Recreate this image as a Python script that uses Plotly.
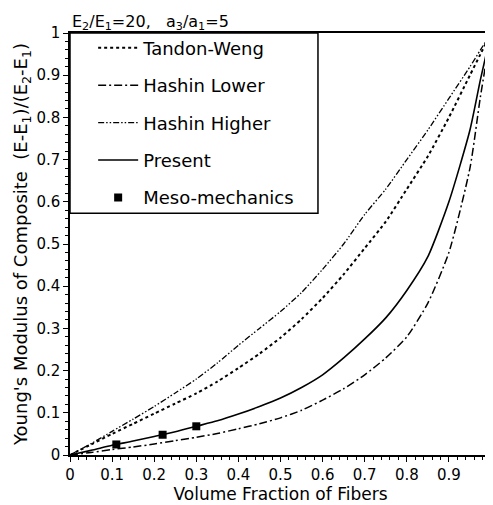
import plotly.graph_objects as go

x_vals = [0, 0.05, 0.1, 0.15, 0.2, 0.25, 0.3, 0.35, 0.4, 0.45, 0.5, 0.55,
          0.6, 0.65, 0.7, 0.75, 0.8, 0.85, 0.9, 0.95, 0.975, 1.0]
tandon_weng = [0, 0.025, 0.05, 0.074, 0.098, 0.122, 0.146, 0.174, 0.206, 0.24, 0.278, 0.322,
               0.372, 0.428, 0.49, 0.553, 0.63, 0.708, 0.8, 0.9, 0.95, 1.0]
hashin_lower = [0, 0.006, 0.013, 0.019, 0.026, 0.034, 0.042, 0.051, 0.062, 0.074, 0.088, 0.106,
                0.13, 0.157, 0.19, 0.23, 0.28, 0.36, 0.48, 0.68, 0.85, 1.0]
hashin_higher = [0, 0.027, 0.056, 0.085, 0.115, 0.147, 0.18, 0.218, 0.26, 0.3, 0.34, 0.385,
                 0.44, 0.5, 0.57, 0.63, 0.7, 0.77, 0.845, 0.92, 0.96, 1.0]
present = [0, 0.011, 0.023, 0.033, 0.044, 0.055, 0.068, 0.081, 0.097, 0.115, 0.135, 0.16,
           0.19, 0.23, 0.275, 0.325, 0.39, 0.47, 0.6, 0.77, 0.89, 1.0]
meso_x = [0.11, 0.22, 0.30]
meso_y = [0.025, 0.048, 0.068]

tick_vals = [0, 0.1, 0.2, 0.3, 0.4, 0.5, 0.6, 0.7, 0.8, 0.9, 1]
tick_text = ["0", "0.1", "0.2", "0.3", "0.4", "0.5", "0.6", "0.7", "0.8", "0.9", "1"]

FONT = "DejaVu Sans"

fig = go.Figure()
fig.add_trace(go.Scatter(x=x_vals, y=tandon_weng, mode="lines", name="Tandon-Weng",
                         legendgroup="a",
                         line=dict(color="black", width=2, dash="dot", shape="spline", smoothing=0.6)))
fig.add_trace(go.Scatter(x=x_vals, y=hashin_lower, mode="lines", name="Hashin Lower",
                         legendgroup="b",
                         line=dict(color="black", width=1.5, dash="8px,3px,2px,3px", shape="spline", smoothing=0.6)))
fig.add_trace(go.Scatter(x=x_vals, y=hashin_higher, mode="lines", name="Hashin Higher",
                         legendgroup="c",
                         line=dict(color="black", width=1.3, dash="6px,2px,1.5px,2px,1.5px,2px", shape="spline", smoothing=0.6)))
fig.add_trace(go.Scatter(x=x_vals, y=present, mode="lines", name="Present",
                         legendgroup="d",
                         line=dict(color="black", width=1.6, shape="spline", smoothing=0.6)))
fig.add_trace(go.Scatter(x=meso_x, y=meso_y, mode="markers", name="Meso-mechanics",
                         legendgroup="e", marker=dict(symbol="square", size=8, color="black")))

axis_common = dict(
    range=[0, 1], tickvals=tick_vals, ticktext=tick_text, automargin=False,
    showgrid=False, zeroline=False, showline=True, linecolor="black", linewidth=1.5,
    mirror=True, ticks="outside", ticklen=5, tickcolor="black", tickwidth=1.2,
    tickfont=dict(family=FONT, size=15, color="black"),
    minor=dict(dtick=0.02, ticks="outside", ticklen=3, tickcolor="black", tickwidth=1),
)

# The page has an 8px body margin, so the figure is sized to fit the window.
fig.update_layout(
    width=485, height=497,
    margin=dict(l=62, r=2, t=25, b=50),
    paper_bgcolor="white", plot_bgcolor="white",
    font=dict(family=FONT, color="black"),
    xaxis=dict(axis_common, title=dict(text="Volume Fraction of Fibers",
                                       font=dict(family=FONT, size=17), standoff=3)),
    yaxis=dict(axis_common, title=dict(text="Young's Modulus of Composite  (E-E<sub>1</sub>)/(E<sub>2</sub>-E<sub>1</sub>)",
                                       font=dict(family=FONT, size=18), standoff=4)),
    legend=dict(x=0.055, y=1.008, xanchor="left", yanchor="top",
                bgcolor="rgba(0,0,0,0)", borderwidth=0,
                font=dict(family=FONT, size=18, color="black"),
                tracegroupgap=11, traceorder="grouped", itemwidth=40),
    showlegend=True,
    shapes=[dict(type="rect", xref="paper", yref="paper", x0=0, x1=0.589, y0=0.573, y1=1,
                 line=dict(color="black", width=1.5), fillcolor="white", layer="below")],
    annotations=[dict(text="E<sub>2</sub>/E<sub>1</sub>=20,   a<sub>3</sub>/a<sub>1</sub>=5",
                      xref="paper", yref="paper", x=0, y=1, xanchor="left", yanchor="bottom",
                      showarrow=False, font=dict(family=FONT, size=16, color="black"), yshift=-2)],
)

fig.write_html("out.html")
